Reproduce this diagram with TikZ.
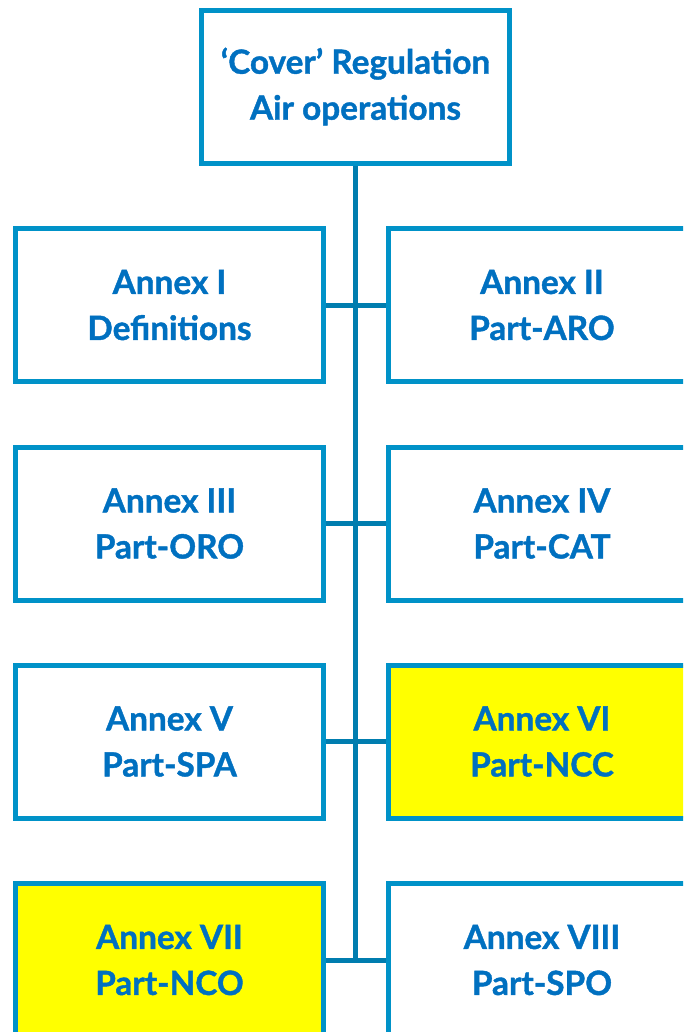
\documentclass[tikz,border=0pt]{standalone}
\usepackage{fontspec}
\setmainfont{Lato}[BoldFeatures={FakeBold=1.2}]
\definecolor{boxblue}{HTML}{0092C8}
\definecolor{lineblue}{HTML}{007DAF}
\definecolor{textblue}{HTML}{0070C0}
\definecolor{markyellow}{HTML}{FFFF00}
\tikzset{
  annex/.style={draw=boxblue, line width=3.75pt, fill=white, inner sep=0pt,
    minimum width=230.5pt, minimum height=114.75pt, align=center,
    text=textblue, font=\fontsize{25}{34.5}\selectfont\bfseries},
  marked/.style={annex, fill=markyellow},
  link/.style={draw=lineblue, line width=3.75pt}
}
\begin{document}
\begin{tikzpicture}[x=0.75pt,y=-0.75pt]
\useasboundingbox (0,0) rectangle (683,1032);
\clip (0,0) rectangle (683,1032);

% regulation at the top
  \node[annex] (cover) at (355.5,86.5) {`Cover' Regulation\\Air operations};

% annexes, left and right
  \node[annex]  (a1) at (169.5,305)   {Annex I\\Definitions};
  \node[annex]  (a2) at (542,305)     {Annex II\\Part-ARO};
  \node[annex]  (a3) at (169.5,523.5) {Annex III\\Part-ORO};
  \node[annex]  (a4) at (542,523.5)   {Annex IV\\Part-CAT};
  \node[annex]  (a5) at (169.5,741.5) {Annex V\\Part-SPA};
  \node[marked] (a6) at (542,741.5)   {Annex VI\\Part-NCC};
  \node[marked] (a7) at (169.5,960)   {Annex VII\\Part-NCO};
  \node[annex]  (a8) at (542,960)     {Annex VIII\\Part-SPO};

% trunk and branches
  \draw[link] (cover.south) -- (cover.south |- a8.west);
  \draw[link] (a1.east) -- (a2.west);
  \draw[link] (a3.east) -- (a4.west);
  \draw[link] (a5.east) -- (a6.west);
  \draw[link] (a7.east) -- (a8.west);

\end{tikzpicture}
\end{document}
